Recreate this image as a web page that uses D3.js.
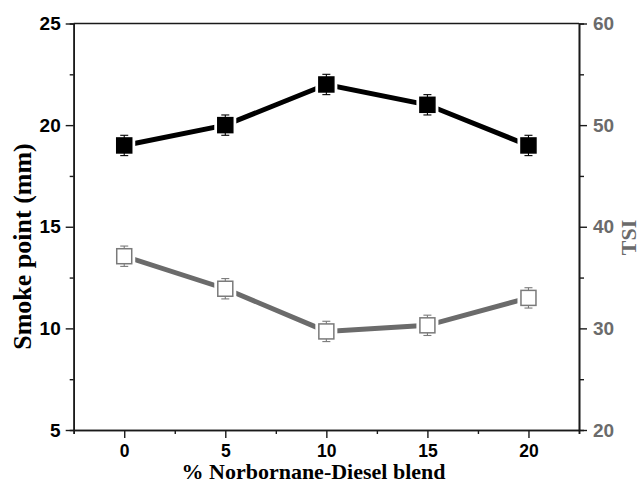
<!DOCTYPE html>
<html>
<head>
<meta charset="utf-8">
<script src="https://cdn.jsdelivr.net/npm/d3@7"></script>
<style>
  body { margin: 0; background: #fff; }
  svg { display: block; }
</style>
</head>
<body>
<svg id="chart" width="642" height="483"></svg>
<script>
// datos
const blend = [0, 5, 10, 15, 20]
const smokePoint = [19, 20, 22, 21, 19]
const smokeErr = [0.5, 0.5, 0.5, 0.5, 0.5]
const tsi = [37.1, 33.9, 29.7, 30.3, 33.0]
const tsiErr = [1, 1, 1, 1, 1]

const xTicks = [0, 5, 10, 15, 20]
const xMinor = [-2.5, 2.5, 7.5, 12.5, 17.5, 22.5]
const yLeftTicks = [5, 10, 15, 20, 25]
const yLeftMinor = [7.5, 12.5, 17.5, 22.5]
const yRightTicks = [20, 30, 40, 50, 60]
const yRightMinor = [25, 35, 45, 55]

const plotL = 73.7, plotR = 579, plotT = 23.5, plotB = 430
const grey = '#6b6b6b'

const svg = d3.select('#chart')

//escalas
const x = d3.scaleLinear().domain([-2.5, 22.5]).range([plotL, plotR])
const yL = d3.scaleLinear().domain([5, 25]).range([plotB, plotT])
const yR = d3.scaleLinear().domain([20, 60]).range([plotB, plotT])

const styleAxis = (g, color, size) => {
  g.select('.domain').attr('stroke', '#1a1a1a').attr('stroke-width', 1.6)
  g.selectAll('.tick line').attr('stroke', '#1a1a1a').attr('stroke-width', 1.4)
  g.selectAll('.tick text')
    .attr('fill', color)
    .attr('font-family', 'Liberation Sans, Arial, sans-serif')
    .attr('font-weight', 'bold')
    .attr('font-size', size + 'px')
}

//ejes menores
svg.append('g')
  .attr('transform', `translate(0, ${plotB})`)
  .call(d3.axisBottom(x).tickValues(xMinor).tickSize(4).tickFormat(''))
  .call(g => styleAxis(g, '#000', 18))
svg.append('g')
  .attr('transform', `translate(${plotL}, 0)`)
  .call(d3.axisLeft(yL).tickValues(yLeftMinor).tickSize(4).tickFormat(''))
  .call(g => styleAxis(g, '#000', 19))
svg.append('g')
  .attr('transform', `translate(${plotR}, 0)`)
  .call(d3.axisRight(yR).tickValues(yRightMinor).tickSize(5).tickFormat(''))
  .call(g => styleAxis(g, grey, 19))

//eje x
svg.append('g')
  .attr('transform', `translate(0, ${plotB})`)
  .call(d3.axisBottom(x).tickValues(xTicks).tickSize(8).tickPadding(7).tickSizeOuter(0))
  .call(g => styleAxis(g, '#000', 17.5))

//eje y izquierdo
svg.append('g')
  .attr('transform', `translate(${plotL}, 0)`)
  .call(d3.axisLeft(yL).tickValues(yLeftTicks).tickSize(8).tickPadding(5).tickSizeOuter(0))
  .call(g => styleAxis(g, '#000', 19))

//eje y derecho
svg.append('g')
  .attr('transform', `translate(${plotR}, 0)`)
  .call(d3.axisRight(yR).tickValues(yRightTicks).tickSize(8).tickPadding(6).tickSizeOuter(0))
  .call(g => styleAxis(g, grey, 19))

//marco superior
svg.append('line')
  .attr('x1', plotL).attr('x2', plotR)
  .attr('y1', plotT).attr('y2', plotT)
  .attr('stroke', '#1a1a1a').attr('stroke-width', 1.6)

//series
const series = [
  { vals: smokePoint, err: smokeErr, y: yL, color: '#000', fill: '#000', stroke: '#000' },
  { vals: tsi, err: tsiErr, y: yR, color: grey, fill: '#fff', stroke: '#7a7a7a' }
]

series.forEach(s => {
  const pts = blend.map((b, i) => ({ x: x(b), y: s.y(s.vals[i]), lo: s.y(s.vals[i] - s.err[i]), hi: s.y(s.vals[i] + s.err[i]) }))
  const g = svg.append('g')

  g.append('path')
    .datum(pts)
    .attr('d', d3.line().x(d => d.x).y(d => d.y))
    .attr('fill', 'none')
    .attr('stroke', s.color)
    .attr('stroke-width', 5)

  //hueco blanco alrededor del marcador
  g.selectAll('rect.halo')
    .data(pts)
    .join('rect')
    .attr('class', 'halo')
    .attr('x', d => d.x - 11).attr('y', d => d.y - 11)
    .attr('width', 22).attr('height', 22)
    .attr('fill', '#fff')

  //barras de error
  const eb = g.selectAll('g.err').data(pts).join('g').attr('class', 'err')
    .attr('stroke', s.stroke).attr('stroke-width', 1.1)
  eb.append('line').attr('x1', d => d.x).attr('x2', d => d.x).attr('y1', d => d.lo).attr('y2', d => d.hi)
  eb.append('line').attr('x1', d => d.x - 4).attr('x2', d => d.x + 4).attr('y1', d => d.lo).attr('y2', d => d.lo)
  eb.append('line').attr('x1', d => d.x - 4).attr('x2', d => d.x + 4).attr('y1', d => d.hi).attr('y2', d => d.hi)

  g.selectAll('rect.mark')
    .data(pts)
    .join('rect')
    .attr('class', 'mark')
    .attr('x', d => d.x - 7.5).attr('y', d => d.y - 7.5)
    .attr('width', 15).attr('height', 15)
    .attr('fill', s.fill)
    .attr('stroke', s.stroke)
    .attr('stroke-width', 1.5)
})

//titulos
svg.append('text')
  .text('% Norbornane-Diesel blend')
  .attr('x', 313.5).attr('y', 479)
  .attr('text-anchor', 'middle')
  .attr('font-family', 'Liberation Serif, Times New Roman, serif')
  .attr('font-weight', 'bold')
  .attr('font-size', '22px')
  .attr('fill', '#000')

svg.append('text')
  .text('Smoke point (mm)')
  .attr('transform', 'translate(31, 246.5) rotate(-90)')
  .attr('text-anchor', 'middle')
  .attr('font-family', 'Liberation Serif, Times New Roman, serif')
  .attr('font-weight', 'bold')
  .attr('font-size', '26px')
  .attr('fill', '#000')

svg.append('text')
  .text('TSI')
  .attr('transform', 'translate(636, 237.5) rotate(-90)')
  .attr('text-anchor', 'middle')
  .attr('font-family', 'Liberation Serif, Times New Roman, serif')
  .attr('font-weight', 'bold')
  .attr('font-size', '22px')
  .attr('fill', grey)
</script>
</body>
</html>
